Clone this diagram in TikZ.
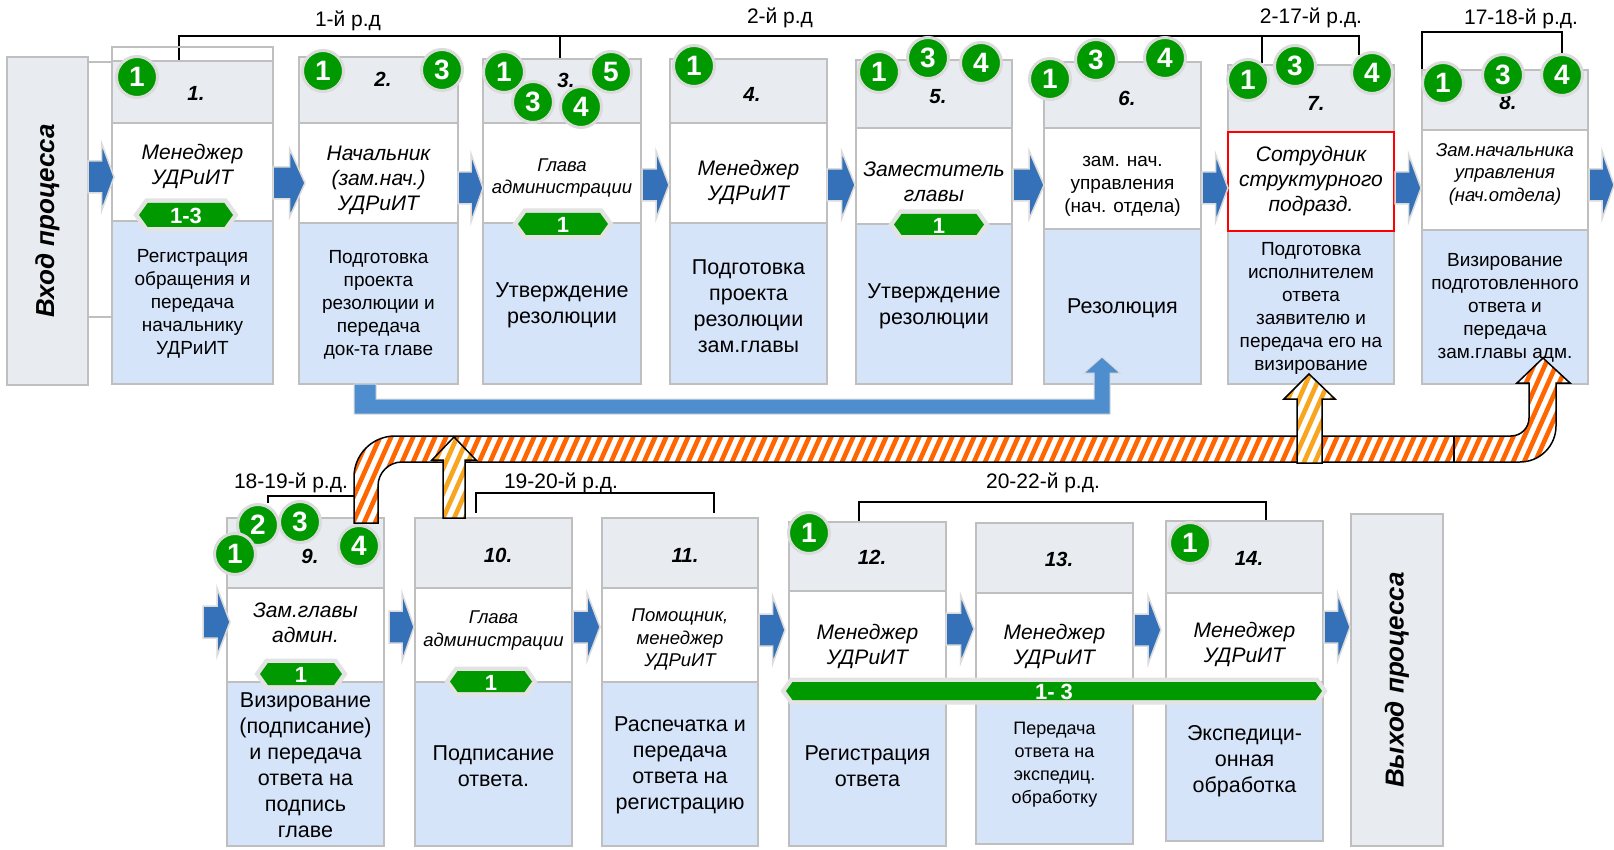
\documentclass[tikz,border=0pt]{standalone}
\usepackage{fontspec}
\setmainfont{Liberation Sans}
\usetikzlibrary{calc}

\definecolor{hdrfill}{RGB}{232,236,241}
\definecolor{descfill}{RGB}{214,228,250}
\definecolor{edgegray}{RGB}{191,191,191}
\definecolor{okgreen}{RGB}{0,153,0}
\definecolor{chevblue}{RGB}{52,113,184}
\definecolor{lblue}{RGB}{78,142,207}
\definecolor{hatchorange}{RGB}{255,102,0}
\definecolor{hatchamber}{RGB}{248,166,32}

% one process stage: header, performer and action cells stacked
% #1 name, #2 left, #3 right, #4 top, #5 header bottom, #6 performer bottom, #7 bottom
\newcommand\stagebox[7]{%
  \pgfmathsetmacro\sbw{#3-#2}%
  \pgfmathsetmacro\sbx{(#2+#3)/2}%
  \pgfmathsetmacro\sbh{#5-#4}\pgfmathsetmacro\sby{(#4+#5)/2}%
  \node[hdrcell, minimum width=\sbw pt, minimum height=\sbh pt] (#1h) at (\sbx,\sby) {};%
  \pgfmathsetmacro\sbh{#6-#5}\pgfmathsetmacro\sby{(#5+#6)/2}%
  \node[rolecell, minimum width=\sbw pt, minimum height=\sbh pt] (#1r) at (\sbx,\sby) {};%
  \pgfmathsetmacro\sbh{#7-#6}\pgfmathsetmacro\sby{(#6+#7)/2}%
  \node[desccell, minimum width=\sbw pt, minimum height=\sbh pt] (#1d) at (\sbx,\sby) {};%
}

% blue block arrow between two stages: #1 from x, #2 to x, #3 centre y
\newcommand\chevron[3]{%
  \filldraw[chevarrow] (#1,{#3-16}) -- ({#1+0.52*(#2-#1)},{#3-16}) -- ({#1+0.52*(#2-#1)},{#3-34})
    -- (#2,#3) -- ({#1+0.52*(#2-#1)},{#3+34}) -- ({#1+0.52*(#2-#1)},{#3+16}) -- (#1,{#3+16}) -- cycle;%
}

% green hexagonal duration badge: #1 name, #2 left, #3 right, #4 top, #5 bottom, #6 text
\newcommand\badge[6]{%
  \pgfmathsetmacro\bgd{(#5-#4)*0.36}%
  \pgfmathsetmacro\bgc{(#4+#5)/2}%
  \fill[okgreen, preaction={draw=gray!22, line width=9pt, line join=miter}]
    (#2,\bgc) -- ({#2+\bgd},#4) -- ({#3-\bgd},#4) -- (#3,\bgc) -- ({#3-\bgd},#5) -- ({#2+\bgd},#5) -- cycle;%
  \node[badgetxt] (#1) at ({(#2+#3)/2},{\bgc+1}) {#6};%
}

% hatched fill of a closed path: #1 path macro, #2 stripe colour
\newcommand\hatchfill[2]{%
  \begin{scope}
    \clip #1;
    \fill[white] (200,330) rectangle (1614,560);
    \foreach \k in {0,...,128} {\draw[#2, line width=4.6pt] ({220+11*\k},550) -- ++(126,-284);}
  \end{scope}
  \draw[pipeedge] #1;%
}

\def\pipepath{(354,523) -- (354,477) arc[start angle=180,end angle=270,radius=41]
  -- (1511,436) arc[start angle=90,end angle=0,radius=18] -- (1529,383) -- (1517,383)
  -- (1543,358) -- (1570,383) -- (1556,383) -- (1556,426) arc[start angle=0,end angle=90,radius=36]
  -- (402,462) arc[start angle=270,end angle=180,radius=24] -- (378,523) -- cycle}
\def\uparrowA{(443,518) -- (443,460) -- (432,460) -- (454,437) -- (476,460) -- (465,460) -- (465,518) -- cycle}
\def\uparrowB{(1297,463) -- (1297,399) -- (1284,399) -- (1309,374) -- (1335,399) -- (1322,399) -- (1322,463) -- cycle}

\begin{document}
\begin{tikzpicture}[x=1pt,y=-1pt,
  cell/.style={draw=edgegray, line width=1.8pt, inner sep=0pt, outer sep=0pt},
  hdrcell/.style={cell, fill=hdrfill},
  rolecell/.style={cell, fill=white},
  desccell/.style={cell, fill=descfill},
  procend/.style={draw=edgegray, line width=1.8pt, fill=hdrfill, inner sep=0pt,
    font=\fontsize{26}{30}\selectfont\bfseries\itshape},
  chevarrow/.style={fill=chevblue, draw=gray!28, line width=1.5pt, line join=miter},
  bracketline/.style={black, line width=1.5pt},
  brlabel/.style={inner sep=0pt, font=\fontsize{21}{25}\selectfont},
  stepno/.style={inner sep=0pt, font=\fontsize{20.5}{24}\selectfont\bfseries\itshape},
  okcircle/.style={circle, fill=okgreen, draw=gray!28, line width=3pt, minimum size=41pt,
    inner sep=0pt, text=white, font=\fontsize{28}{32}\selectfont\bfseries},
  badgetxt/.style={inner sep=0pt, text=white, font=\fontsize{22}{24}\selectfont\bfseries},
  roleL/.style={align=center, inner sep=0pt, font=\fontsize{21}{25}\selectfont\itshape},
  roleS/.style={align=center, inner sep=0pt, font=\fontsize{18.5}{22.5}\selectfont\itshape},
  roleN/.style={align=center, inner sep=0pt, font=\fontsize{19}{23}\selectfont},
  descA/.style={align=center, inner sep=0pt, font=\fontsize{19}{23}\selectfont},
  descB/.style={align=center, inner sep=0pt, font=\fontsize{21.5}{26}\selectfont},
  descC/.style={align=center, inner sep=0pt, font=\fontsize{18}{23}\selectfont},
  pipeedge/.style={black, line width=1.5pt, line join=miter},
]
\useasboundingbox (0,0) rectangle (1614,850);
\fill[white] (0,0) rectangle (1614,850);

% day brackets
\draw[bracketline] (179,65) -- (179,36) -- (1359,36) -- (1359,55);
\draw[bracketline] (560,36) -- (560,60);
\draw[bracketline] (1262,36) -- (1262,63);
\draw[bracketline] (1422,73) -- (1422,32) -- (1562,32) -- (1562,53);
\draw[bracketline] (268,503) -- (268,496) -- (354,496);
\draw[bracketline] (476,513) -- (476,493) -- (714,493) -- (714,513);
\draw[bracketline] (859,522) -- (859,502) -- (1266,502) -- (1266,522);
\node[brlabel] (lbl1) at (348,21) {1-й р.д};
\node[brlabel] (lbl2) at (780,18) {2-й р.д};
\node[brlabel] (lbl3) at (1311,18) {2-17-й р.д.};
\node[brlabel] (lbl4) at (1521,19) {17-18-й р.д.};
\node[brlabel] (lbl5) at (291,483) {18-19-й р.д.};
\node[brlabel] (lbl6) at (561,483) {19-20-й р.д.};
\node[brlabel] (lbl7) at (1043,483) {20-22-й р.д.};

% frame behind the first stage
\draw[edgegray, line width=1.8pt] (112,61) -- (112,47) -- (273,47) -- (273,61);
\draw[edgegray, line width=1.8pt] (88,62) -- (112,62) (88,317) -- (112,317);

% process entry and exit
\node[procend, rotate=90, minimum width=328pt, minimum height=81pt] (inbox) at (47.5,221) {Вход процесса};
\node[procend, rotate=90, minimum width=332pt, minimum height=92pt] (outbox) at (1397,680) {Выход процесса};

% stages
\stagebox{b1}{112}{273}{61}{123}{221}{384}
\stagebox{b2}{299}{458}{57}{123}{223}{384}
\stagebox{b3}{483}{641}{59}{123}{223}{384}
\stagebox{b4}{670}{827}{59}{123}{223}{384}
\stagebox{b5}{856}{1012}{60}{128}{224}{384}
\stagebox{b6}{1044}{1201}{62}{128}{229}{384}
\stagebox{b7}{1228}{1394}{65}{132}{231}{384}
\stagebox{b8}{1422}{1588}{70}{130}{230}{384}
\stagebox{b9}{227}{384}{518}{588}{682}{846}
\stagebox{b10}{415}{572}{518}{588}{682}{846}
\stagebox{b11}{602}{758}{518}{588}{682}{846}
\stagebox{b12}{789}{946}{522}{591}{682}{846}
\stagebox{b13}{976}{1133}{523}{593}{682}{844}
\stagebox{b14}{1166}{1323}{521}{593}{682}{841}
\draw[red, line width=2pt] (b7r.north west) rectangle (b7r.south east);

% flow between stages
\chevron{88}{114}{177}
\chevron{273}{305}{183}
\chevron{458}{483}{188}
\chevron{642}{669}{185}
\chevron{827}{855}{185}
\chevron{1013}{1044}{185}
\chevron{1202}{1228}{188}
\chevron{1395}{1421}{188}
\chevron{1589}{1614}{185}
\chevron{203}{230}{622}
\chevron{389}{414}{627}
\chevron{573}{600}{627}
\chevron{759}{785}{630}
\chevron{946}{974}{629}
\chevron{1134}{1161}{630}
\chevron{1324}{1350}{627}

% performers
\node[roleL] (p1) at (192.5,166) {Менеджер\\УДРиИТ};
\node[roleL] (p2) at (378.5,180) {Начальник\\(зам.нач.)\\УДРиИТ};
\node[roleS] (p3) at (562,178) {Глава\\администрации};
\node[roleL] (p4) at (748.5,182) {Менеджер\\УДРиИТ};
\node[roleL] (p5) at (934,182) {Заместитель\\главы};
\node[roleN] (p6) at (1122.5,186) {зам. нач.\\управления\\(нач. отдела)};
\node[roleL] (p7) at (1311,181) {Сотрудник\\структурного\\подразд.};
\node[roleS] (p8) at (1505,174) {Зам.начальника\\управления\\(нач.отдела)};
\node[roleL] (p9) at (305.5,623) {Зам.главы\\админ.};
\node[roleS] (p10) at (493.5,630.5) {Глава\\администрации};
\node[roleS] (p11) at (680,639.5) {Помощник,\\менеджер\\УДРиИТ};
\node[roleL] (p12) at (867.5,646.5) {Менеджер\\УДРиИТ};
\node[roleL] (p13) at (1054.5,646.5) {Менеджер\\УДРиИТ};
\node[roleL] (p14) at (1244.5,644.5) {Менеджер\\УДРиИТ};

% actions
\node[descA] (a1) at (192.5,304) {Регистрация\\обращения и\\передача\\начальнику\\УДРиИТ};
\node[descA] (a2) at (378.5,305) {Подготовка\\проекта\\резолюции и\\передача\\док-та главе};
\node[descB] (a3) at (562,305) {Утверждение\\резолюции};
\node[descB] (a4) at (748.5,306) {Подготовка\\проекта\\резолюции\\зам.главы};
\node[descB] (a5) at (934,306) {Утверждение\\резолюции};
\node[descB] (a6) at (1122.5,308) {Резолюция};
\node[descA] (a7) at (1311,308) {Подготовка\\исполнителем\\ответа\\заявителю и\\передача его на\\визирование};
\node[descA] (a8) at (1505,308) {Визирование\\подготовленного\\ответа и\\передача\\зам.главы адм.};
\node[descB] (a9) at (305.5,765) {Визирование\\(подписание)\\и передача\\ответа на\\подпись\\главе};
\node[descB] (a10) at (493.5,766) {Подписание\\ответа.};
\node[descB] (a11) at (680,765) {Распечатка и\\передача\\ответа на\\регистрацию};
\node[descB] (a12) at (867.5,766) {Регистрация\\ответа};
\node[descC] (a13) at (1054.5,764.5) {Передача\\ответа на\\экспедиц.\\обработку};
\node[descB] (a14) at (1244.5,761) {Экспедици-\\онная\\обработка};

% duration badges
\badge{g1}{139}{233}{203}{227}{1-3}
\badge{g3}{518}{608}{213}{235}{1}
\badge{g5}{894}{984}{214}{235}{1}
\badge{g9}{260}{342}{663}{685}{1}
\badge{g10}{450}{532}{671}{692}{1}
\badge{g12}{786}{1322}{682}{700}{1- 3}

% resolution passed from stage 2 to stage 6
\filldraw[fill=lblue, draw=gray!30, line width=1pt] (354,384) -- (376,384) -- (376,399) -- (1094,399)
  -- (1094,373) -- (1084,373) -- (1102,357) -- (1120,373) -- (1110,373) -- (1110,414) -- (354,414) -- cycle;

% return path of the answer
\hatchfill{\pipepath}{hatchorange}
\draw[pipeedge] (1454,436) -- (1454,462);
\hatchfill{\uparrowA}{hatchamber}
\hatchfill{\uparrowB}{hatchamber}

% stage numbers
\node[stepno] (n1) at (196,93) {1.};
\node[stepno] (n2) at (383,79) {2.};
\node[stepno] (n3) at (566,80) {3.};
\node[stepno] (n4) at (752,94) {4.};
\node[stepno] (n5) at (938,97) {5.};
\node[stepno] (n6) at (1127,98) {6.};
\node[stepno] (n7) at (1316,103) {7.};
\node[stepno] (n8) at (1508,102) {8.};
\node[stepno] (n9) at (310,556) {9.};
\node[stepno] (n10) at (498,555) {10.};
\node[stepno] (n11) at (685,555) {11.};
\node[stepno] (n12) at (872,557) {12.};
\node[stepno] (n13) at (1059,559) {13.};
\node[stepno] (n14) at (1249,558) {14.};

% participant markers
\node[okcircle] (c1a) at (137,77) {1};
\node[okcircle] (c2a) at (323,71) {1};
\node[okcircle] (c2c) at (442,70) {3};
\node[okcircle] (c3a) at (504,72) {1};
\node[okcircle] (c3c) at (533,102) {3};
\node[okcircle] (c3d) at (581,107) {4};
\node[okcircle] (c3e) at (611,72) {5};
\node[okcircle] (c4a) at (694,66) {1};
\node[okcircle] (c5a) at (879,72) {1};
\node[okcircle] (c5c) at (928,58) {3};
\node[okcircle] (c5d) at (981,63) {4};
\node[okcircle] (c6a) at (1050,79) {1};
\node[okcircle] (c6c) at (1096,60) {3};
\node[okcircle] (c6d) at (1165,58) {4};
\node[okcircle] (c7a) at (1248,80) {1};
\node[okcircle] (c7c) at (1295,66) {3};
\node[okcircle] (c7d) at (1372,73) {4};
\node[okcircle] (c8a) at (1443,83) {1};
\node[okcircle] (c8c) at (1503,75) {3};
\node[okcircle] (c8d) at (1562,75) {4};
\node[okcircle] (c9b) at (258,525) {2};
\node[okcircle] (c9c) at (300,522) {3};
\node[okcircle] (c9a) at (235,554) {1};
\node[okcircle] (c9d) at (359,546) {4};
\node[okcircle] (c12a) at (809,533) {1};
\node[okcircle] (c14a) at (1190,543) {1};
\end{tikzpicture}
\end{document}
